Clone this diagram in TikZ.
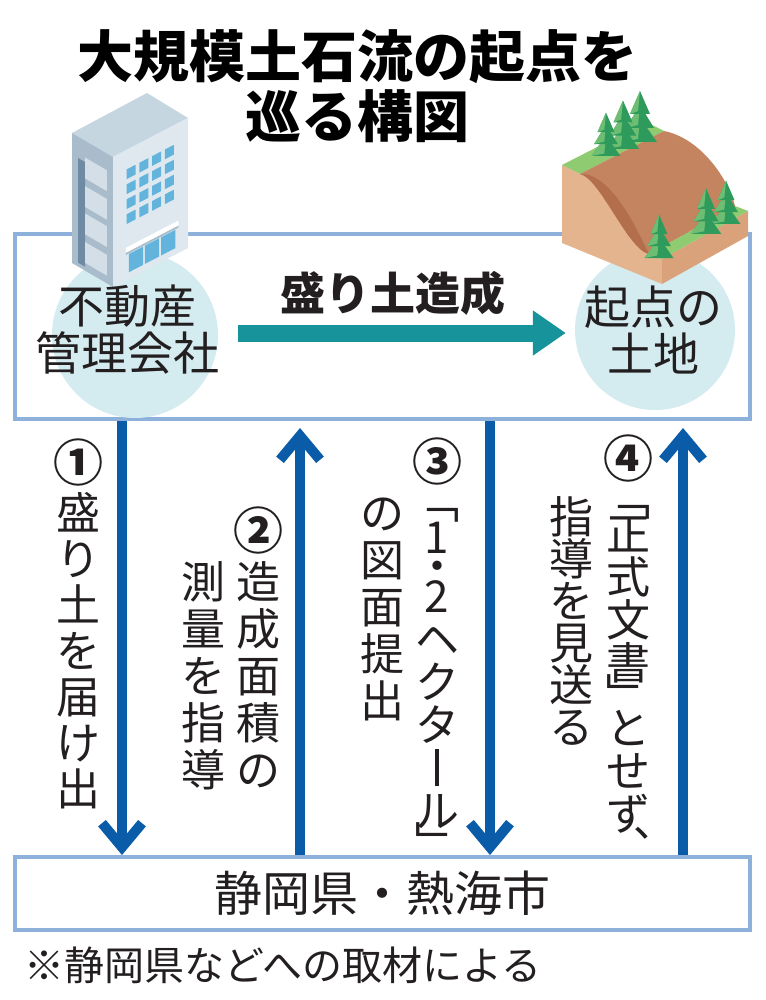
\documentclass[tikz,border=0pt]{standalone}
\usepackage{fontspec}
\setmainfont{Noto Sans CJK JP}
\usetikzlibrary{arrows.meta, positioning}

\definecolor{sumi}{HTML}{231F20}
\definecolor{wakuao}{HTML}{8DB1DB}
\definecolor{maruiro}{HTML}{D4ECF0}
\definecolor{koao}{HTML}{0B5CA8}
\definecolor{seiro}{HTML}{17939B}
\definecolor{biruue}{HTML}{C6D6E1}
\definecolor{biruhidari}{HTML}{A8BCCB}
\definecolor{birumigi}{HTML}{DFE8EE}
\definecolor{birusen}{HTML}{6F8BA3}
\definecolor{birupanel}{HTML}{D3DEE6}
\definecolor{madoiro}{HTML}{62B4DD}
\definecolor{yamahidari}{HTML}{E4B48E}
\definecolor{yamamae}{HTML}{D9A27A}
\definecolor{shamen}{HTML}{C4845F}
\definecolor{shamenkoi}{HTML}{B36E4C}
\definecolor{kusa}{HTML}{8FCB70}
\definecolor{kiusu}{HTML}{6DBE72}
\definecolor{kikoi}{HTML}{2E9B5D}

% 縦書き: 1文字ずつ積む
\newcommand{\nobashi}{\rule[-0.045em]{0.075em}{0.85em}}
\makeatletter
\newcommand{\tate}[2][45pt]{\vbox{\offinterlineskip\def\tate@p{#1}\tate@#2\@nil}}
\def\tate@#1{\ifx#1\@nil\else\tate@cell{#1}\expandafter\tate@\fi}
\def\tate@cell#1{%
  \def\tate@h{\tate@p}\def\tate@f{}%
  \in@{#1}{﹁}\ifin@\def\tate@h{26pt}\fi
  \in@{#1}{﹂}\ifin@\def\tate@h{22pt}\fi
  \in@{#1}{・}\ifin@\def\tate@h{16pt}\fi
  \in@{#1}{︑}\ifin@\def\tate@h{24pt}\fi
  \in@{#1}{①②③④}\ifin@\def\tate@h{56pt}\def\tate@f{\bfseries\fontsize{50}{50}\selectfont}\fi
  \vbox to \tate@h{\vss\hbox to 46pt{\hss\tate@f\smash{\lower0.38em\hbox{#1}}\hss}\vss}}
\makeatother

\tikzstyle{waku} = [draw=wakuao, line width=4pt, rectangle, inner sep=0pt, text=sumi]
\tikzstyle{maru} = [circle, fill=maruiro, inner sep=0pt, minimum size=166pt]
\tikzstyle{meisho} = [font=\fontsize{46}{47}\selectfont, text=sumi, align=center, inner sep=0pt]
\tikzstyle{tate} = [font=\fontsize{44}{44}\selectfont, text=sumi, inner sep=0pt]
\tikzstyle{todoke} = [draw=koao, line width=10pt, -{Straight Barb[length=24pt, width=40pt]}]
\tikzstyle{zousei} = [draw=seiro, line width=17pt, -{Triangle[length=33pt, width=43pt]}]
\tikzset{sugi/.pic={
  \foreach \b/\w/\t in {0/17/24, -14/14/37, -28/10/51} {
    \fill[kikoi] (-\w,\b) -- (0,-\t) -- (\w,\b) -- cycle;
    \fill[kiusu] (-\w,\b) -- (0,-\t) -- (-2,\b-3) -- cycle;
  }
}}

\begin{document}
\begin{tikzpicture}[x=1pt, y=-1pt]
	\useasboundingbox (0,0) rectangle (765,1000);
	\fill[white] (0,0) rectangle (765,1000);

	\node[font=\bfseries\fontsize{56}{60}\selectfont, align=center, text=black] (midashi) at (357,86) {大規模土石流の起点を\\巡る構図};

	\node[waku, minimum width=735pt, minimum height=185pt] (uebako) at (382.5,326.5) {};
	\node[waku, minimum width=735pt, minimum height=73pt, font=\fontsize{48}{48}\selectfont] (shitabako) at (382.5,893.5) {静岡県・熱海市};

	\node[maru] (maruL) at (135,335) {};
	\node[maru, minimum size=160pt] (maruR) at (655,330) {};

	% ビル
	\fill[biruue] (147,93) -- (72,133) -- (113,157) -- (188,118) -- cycle;
	\begin{scope}[shift={(72,133)}, x={(41pt,-24pt)}, y={(0pt,-130pt)}]
		\fill[biruhidari] (0,0) -- (1,0) -- (1,1) -- (0,1) -- cycle;
		\fill[birusen] (0.15,0.165) -- (0.32,0.165) -- (0.32,0.97) -- (0.15,0.97) -- cycle;
		\foreach \v in {0.13,0.35,0.56,0.78}
			\fill[birupanel] (0.32,\v) -- (0.85,\v) -- (0.85,\v+0.16) -- (0.32,\v+0.16) -- cycle;
	\end{scope}
	\begin{scope}[shift={(113,157)}, x={(75pt,39pt)}, y={(0pt,-130pt)}]
		\fill[birumigi] (0,0) -- (1,0) -- (1,1) -- (0,1) -- cycle;
		\foreach \i in {0,...,3}
			\foreach \j in {0,...,3}
				\fill[madoiro] ({0.18+0.17*\i},{0.15+0.115*\j}) -- ++(0.12,0) -- ++(0,0.075) -- ++(-0.12,0) -- cycle;
		\fill[white] (0.17,0.75) -- (0.87,0.75) -- (0.87,0.79) -- (0.17,0.79) -- cycle;
		\fill[biruhidari] (0.17,0.79) -- (0.87,0.79) -- (0.87,0.805) -- (0.17,0.805) -- cycle;
		\foreach \i in {0,1,2}
			\fill[madoiro] ({0.21+0.215*\i},0.81) -- ++(0.19,0) -- ++(0,0.14) -- ++(-0.19,0) -- cycle;
	\end{scope}

	% 山
	\fill[yamahidari] (562,165) -- (562,243) -- (662,284) -- (662,259) -- (649,254) .. controls (628,250) and (600,178) .. (580,174) -- cycle;
	\fill[yamamae] (662,284) -- (748,236) -- (748,211) -- (662,259) -- cycle;
	\fill[kusa] (562,165) -- (646,122) -- (664,131) -- (580,174) -- cycle;
	\fill[kusa] (662,259) -- (748,211) -- (735,206) -- (649,254) -- cycle;
	\fill[shamen] (580,174) -- (664,131) .. controls (700,138) and (728,178) .. (735,206) -- (649,254) .. controls (628,250) and (600,178) .. (580,174) -- cycle;
	\fill[shamenkoi] (580,174) .. controls (600,178) and (628,250) .. (649,254) .. controls (640,236) and (612,172) .. (580,174) -- cycle;
	\pic[scale=1.0] at (640,142) {sugi};
	\pic[scale=0.95] at (623,149) {sugi};
	\pic[scale=0.85] at (606,156) {sugi};
	\pic[scale=0.85] at (726,224) {sugi};
	\pic[scale=0.9] at (706,234) {sugi};
	\pic[scale=0.85] at (659,258) {sugi};

	\node[meisho] (kaisha) at (127,330) {不動産\\管理会社};
	\node[meisho] (tochi) at (653,330) {起点の\\土地};
	\node[font=\bfseries\fontsize{45}{45}\selectfont, text=sumi] (moridoL) at (393,293) {盛り土造成};
	\draw[zousei] ([shift={(19pt,-3pt)}]kaisha.east) -- ([shift={(-18pt,-3pt)}]tochi.west);

	\coordinate (x1) at (122,0);
	\coordinate (x2) at (300,0);
	\coordinate (x3) at (490,0);
	\coordinate (x4) at (683,0);
	\draw[todoke] (uebako.south -| x1) -- (shitabako.north -| x1);
	\draw[todoke, shorten >=7pt] (shitabako.north -| x2) -- (uebako.south -| x2);
	\draw[todoke] (uebako.south -| x3) -- (shitabako.north -| x3);
	\draw[todoke, shorten >=7pt] (shitabako.north -| x4) -- (uebako.south -| x4);

	\node[tate, anchor=north] (tate1) at (78,434) {\tate[46pt]{①盛り土を届け出}};
	\node[tate, anchor=north] (tate2a) at (258,502) {\tate[47pt]{②造成面積の}};
	\node[tate, below left=56pt and 8pt of tate2a.north west] (tate2b) {\tate[47pt]{測量を指導}};
	\node[tate, anchor=north] (tate3a) at (437,433) {\tate[43pt]{③﹁1・2ヘクタ\nobashi ル﹂}};
	\node[tate, below left=56pt and 8pt of tate3a.north west] (tate3b) {\tate[47pt]{の図面提出}};
	\node[tate, anchor=north] (tate4a) at (628,430) {\tate[43pt]{④﹁正式文書﹂とせず︑}};
	\node[tate, below left=66pt and 10pt of tate4a.north west] (tate4b) {\tate[42pt]{指導を見送る}};

	\node[font=\fontsize{40}{40}\selectfont, text=sumi, anchor=west, inner sep=0pt] (chuki) at (24,965) {※静岡県などへの取材による};
\end{tikzpicture}
\end{document}
